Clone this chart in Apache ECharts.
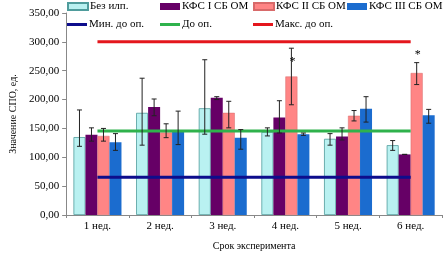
<!DOCTYPE html>
<html>
<head>
<meta charset="utf-8">
<script src="https://cdn.jsdelivr.net/npm/echarts@6/dist/echarts.min.js"></script>
<style>
  html, body { margin: 0; padding: 0; background: #fff; }
  #chart { width: 444px; height: 256px; }
</style>
</head>
<body>
<div id="chart"></div>
<script>
// категории
var weeks = ['1 нед.', '2 нед.', '3 нед.', '4 нед.', '5 нед.', '6 нед.'];

// средние значения
var noImpl = [135, 177, 185, 144, 132, 121];
var kfs1 = [139, 187, 203, 169, 136, 105];
var kfs2 = [137, 143, 177, 240, 172, 246];
var kfs3 = [126, 145, 134, 140, 184, 173];

// границы ошибок (низ / верх)
var noImplLow = [119, 121, 140, 137, 121, 112];
var noImplHigh = [182, 237, 269, 151, 141, 129];
var kfs1Low = [128, 172, 200, 142, 130, 105];
var kfs1High = [151, 201, 205, 198, 151, 105];
var kfs2Low = [128, 134, 151, 191, 163, 226];
var kfs2High = [150, 158, 197, 289, 181, 264];
var kfs3Low = [112, 122, 114, 138, 161, 159];
var kfs3High = [141, 180, 148, 142, 205, 183];

// уровни до операции
var minBefore = [65.6, 65.6, 65.6, 65.6, 65.6, 65.6];
var before = [145.4, 145.4, 145.4, 145.4, 145.4, 145.4];
var maxBefore = [300, 300, 300, 300, 300, 300];

// звёздочки над КФС II СБ ОМ
var starWeeks = [3, 5];
var starValues = [266, 278];

var dom = document.getElementById('chart');
var chart = echarts.init(dom);

var FONT = 'Liberation Serif';
var BAR_W = 12;
var offsets = [-18, -6, 6, 18];

var errData = [];
[[noImplLow, noImplHigh], [kfs1Low, kfs1High], [kfs2Low, kfs2High], [kfs3Low, kfs3High]].forEach(function (pair, s) {
    for (var i = 0; i < weeks.length; i++) {
        errData.push([i, pair[0][i], pair[1][i], s]);
    }
});

var starData = starWeeks.map(function (w, i) { return [w, starValues[i]]; });

function legendItem(name, left, top, isLine) {
    return {
        data: [name],
        left: left,
        top: top,
        itemWidth: 20,
        itemHeight: isLine ? 3 : 7,
        itemGap: 2,
        icon: 'rect',
        padding: 0,
        textStyle: { fontFamily: FONT, fontSize: 11, color: '#000', padding: [0, 0, 0, -3] },
        selectedMode: false
    };
}

var option = {
    animation: false,
    textStyle: { fontFamily: FONT },
    legend: [
        legendItem('Без илп.', 67, 1, false),
        legendItem('КФС I СБ ОМ', 160, 1, false),
        legendItem('КФС II СБ ОМ', 253, 1, false),
        legendItem('КФС III СБ ОМ', 347, 1, false),
        legendItem('Мин. до оп.', 67, 19, true),
        legendItem('До оп.', 160, 19, true),
        legendItem('Макс. до оп.', 253, 19, true)
    ],
    grid: { left: 49, right: 2, top: 13, bottom: 37 },
    xAxis: {
        type: 'category',
        data: weeks,
        name: 'Срок эксперимента',
        nameLocation: 'middle',
        nameGap: 26,
        nameTextStyle: { fontFamily: FONT, fontSize: 10, color: '#000' },
        axisLine: { lineStyle: { color: '#888', width: 1 } },
        axisTick: { show: true, length: 3, lineStyle: { color: '#888' } },
        axisLabel: { fontFamily: FONT, fontSize: 11, color: '#000', margin: 6 }
    },
    yAxis: {
        type: 'value',
        min: 0,
        max: 350,
        interval: 50,
        name: 'Значение СПО, ед.',
        nameLocation: 'middle',
        nameGap: 37,
        nameTextStyle: { fontFamily: FONT, fontSize: 10, color: '#000' },
        axisLine: { show: true, lineStyle: { color: '#888', width: 1 } },
        axisTick: { show: true, length: 4, lineStyle: { color: '#888' } },
        splitLine: { show: false },
        axisLabel: {
            fontFamily: FONT, fontSize: 11, color: '#000', margin: 7,
            formatter: function (v) { return v.toFixed(2).replace('.', ','); }
        }
    },
    series: [
        {
            name: 'Без илп.', type: 'bar', data: noImpl, barWidth: BAR_W, barGap: '0%',
            itemStyle: { color: '#b9f1f1', borderColor: '#4f9c9c', borderWidth: 0.8 }
        },
        {
            name: 'КФС I СБ ОМ', type: 'bar', data: kfs1, barWidth: BAR_W, barGap: '0%',
            itemStyle: { color: '#660066' }
        },
        {
            name: 'КФС II СБ ОМ', type: 'bar', data: kfs2, barWidth: BAR_W, barGap: '0%',
            itemStyle: { color: '#ff8585', borderColor: '#d86a6a', borderWidth: 0.5 }
        },
        {
            name: 'КФС III СБ ОМ', type: 'bar', data: kfs3, barWidth: BAR_W, barGap: '0%',
            itemStyle: { color: '#1b6ccf' }
        },
        {
            name: 'Мин. до оп.', type: 'line', data: minBefore, symbol: 'none', z: 5,
            lineStyle: { color: '#0d0d8c', width: 3 }, itemStyle: { color: '#0d0d8c' }
        },
        {
            name: 'До оп.', type: 'line', data: before, symbol: 'none', z: 5,
            lineStyle: { color: '#2fb24c', width: 3 }, itemStyle: { color: '#2fb24c' }
        },
        {
            name: 'Макс. до оп.', type: 'line', data: maxBefore, symbol: 'none', z: 5,
            lineStyle: { color: '#e4161c', width: 3 }, itemStyle: { color: '#e4161c' }
        },
        {
            // планки погрешностей
            type: 'custom',
            z: 6,
            data: errData,
            renderItem: function (params, api) {
                var x = api.coord([api.value(0), 0])[0] + offsets[api.value(3)];
                var yl = api.coord([api.value(0), api.value(1)])[1];
                var yh = api.coord([api.value(0), api.value(2)])[1];
                var st = { stroke: '#222', lineWidth: 1 };
                return {
                    type: 'group',
                    children: [
                        { type: 'line', shape: { x1: x, y1: yl, x2: x, y2: yh }, style: st },
                        { type: 'line', shape: { x1: x - 2.5, y1: yl, x2: x + 2.5, y2: yl }, style: st },
                        { type: 'line', shape: { x1: x - 2.5, y1: yh, x2: x + 2.5, y2: yh }, style: st }
                    ]
                };
            }
        },
        {
            type: 'custom',
            z: 6,
            data: starData,
            renderItem: function (params, api) {
                var x = api.coord([api.value(0), 0])[0] + offsets[2];
                var y = api.coord([api.value(0), api.value(1)])[1];
                return {
                    type: 'text',
                    style: {
                        text: '*', x: x + 1, y: y, align: 'center', verticalAlign: 'middle',
                        font: '12px ' + FONT, fill: '#000'
                    }
                };
            }
        }
    ]
};

chart.setOption(option);
</script>
</body>
</html>
